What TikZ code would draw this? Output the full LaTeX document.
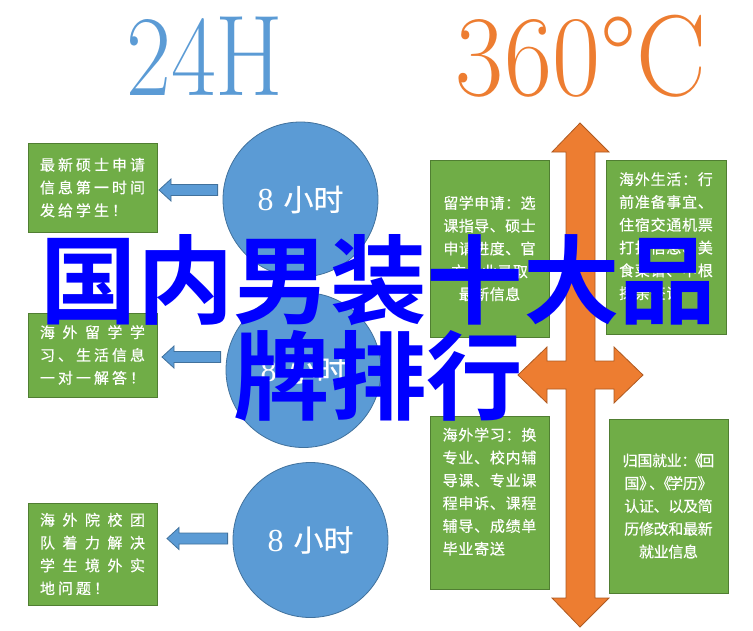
\documentclass[tikz,border=0pt]{standalone}
\usepackage{fontspec}
\usepackage{graphicx}
\usetikzlibrary{calc}
\newfontfamily\cjk[BoldFont={Noto Sans CJK SC Bold}]{Noto Sans CJK SC}
\newfontfamily\cjkbox[FakeBold=0.5]{Noto Sans CJK SC}
\newfontfamily\numeral{Liberation Serif}
\definecolor{hourblue}{HTML}{5B9BD5}
\definecolor{hourline}{HTML}{41719C}
\definecolor{infogreen}{HTML}{70AD47}
\definecolor{infoline}{HTML}{507E32}
\definecolor{heatorange}{HTML}{ED7D31}
\definecolor{heatline}{HTML}{AE5A21}
\newcommand{\eighthours}{{\numeral\fontsize{32}{32}\selectfont 8}\hspace{10pt}{\cjkbox 小时}}
\tikzset{
  infobox/.style={draw=infoline,fill=infogreen,line width=1pt,inner sep=0pt,text=white,align=left,
    font=\cjkbox\fontsize{15}{22.8}\selectfont\addfontfeature{LetterSpace=#1}},
  infobox/.default=0,
  hourcircle/.style={circle,draw=hourline,fill=hourblue,line width=.8pt,inner sep=0pt,minimum size=155pt,text=white,
    font=\fontsize{30}{32}\selectfont},
  linkarrow/.style={draw=hourline,fill=hourblue,line width=.8pt,
    to path={let \p1=(\tikztostart),\p2=(\tikztotarget) in
      (\x1-5pt,\y1+5.5pt) -- (\x2+12pt,\y1+5.5pt) -- (\x2+12pt,\y1+11pt) -- (\x2,\y1)
      -- (\x2+12pt,\y1-11pt) -- (\x2+12pt,\y1-5.5pt) -- (\x1-5pt,\y1-5.5pt) -- cycle}},
  headline/.style={inner sep=0pt,font=\fontsize{115}{115}\selectfont\addfontfeature{FakeBold=0.5}}
}
\begin{document}
\begin{tikzpicture}[x=1pt,y=-1pt]
  \useasboundingbox (0,0) rectangle (753,630);
  % headlines
  \node[headline,text=hourblue] (titleH) at (205,56) {\scalebox{.85}[1]{24H}};
  \node[headline,text=heatorange] (titleC) at (581,56) {\scalebox{.91}[1]{360\textdegree C}};
  % left boxes
  \node[infobox=20,minimum width=129pt,minimum height=89pt] (boxA) at (92.5,187.5) {最新硕士申请\\信息第一时间\\发给学生！};
  \node[infobox=20,minimum width=129pt,minimum height=84pt] (boxB) at (92.5,355) {\addfontfeature{LetterSpace=50}海外留学学\\习、生活信息\\一对一解答！};
  \node[infobox=50,minimum width=129pt,minimum height=102pt] (boxC) at (92.5,554) {海外院校团\\队着力解决\\学生境外实\\\addfontfeature{LetterSpace=20}地问题！};
  % circles
  \node[hourcircle] (hourA) at (300.5,199.5) {\eighthours};
  \node[hourcircle] (hourB) at (303.5,370) {\eighthours};
  \node[hourcircle] (hourC) at (310.5,540) {\eighthours};
  % arrows from circles to boxes
  \coordinate (tipA) at (159,190);
  \coordinate (tipB) at (162,357);
  \coordinate (tipC) at (167,538.5);
  \path[linkarrow] (hourA.west |- tipA) to (tipA);
  \path[linkarrow] (hourB.west |- tipB) to (tipB);
  \path[linkarrow] (hourC.west |- tipC) to (tipC);
  % orange cross
  \draw[fill=heatorange,draw=heatline,line width=.8pt] (580,123) -- (609,152) -- (595,152) -- (595,361) -- (614,361) -- (614,347) -- (643,375)
    -- (614,403) -- (614,389) -- (595,389) -- (595,598) -- (609,598) -- (580,627) -- (552,598) -- (566,598) -- (566,389) -- (547,389)
    -- (547,403) -- (518,375) -- (547,347) -- (547,361) -- (566,361) -- (566,152) -- (552,152) -- cycle;
  % right boxes
  \node[infobox=3,align=center,minimum width=119pt,minimum height=177pt] (boxD) at (489.5,248.5) {留学申请：选\\课指导、硕士\\申请进度、官\\方专业录取\\最新信息};
  \node[infobox=5,minimum width=120pt,minimum height=174pt] (boxE) at (666,247) {海外生活：行\\前准备事宜、\\住宿交通机票\\打折信息、美\\食菜谱、中根\\探亲签证\\\mbox{}};
  \node[infobox=5,minimum width=119pt,minimum height=173pt] (boxF) at (489.5,502.5) {海外学习：换\\专业、校内辅\\导课、专业课\\程申诉、课程\\辅导、成绩单\\毕业寄送\\\mbox{}};
  \node[infobox=-2,align=center,minimum width=119pt,minimum height=174pt] (boxG) at (668.5,506) {归国就业：\hspace{-9pt}《\hspace{-3pt}回\\国》\hspace{-5pt}、\hspace{-8pt}《\hspace{-3pt}学历》\\认证、以及简\\历修改和最新\\就业信息};
  % big overlay text
  \node[inner sep=0pt,align=center,text={rgb,255:red,0;green,0;blue,255},font=\cjk\bfseries\fontsize{96.5}{96}\selectfont] (banner) at (378.5,327.5) {国内男装十大品\\牌排行};
\end{tikzpicture}
\end{document}
